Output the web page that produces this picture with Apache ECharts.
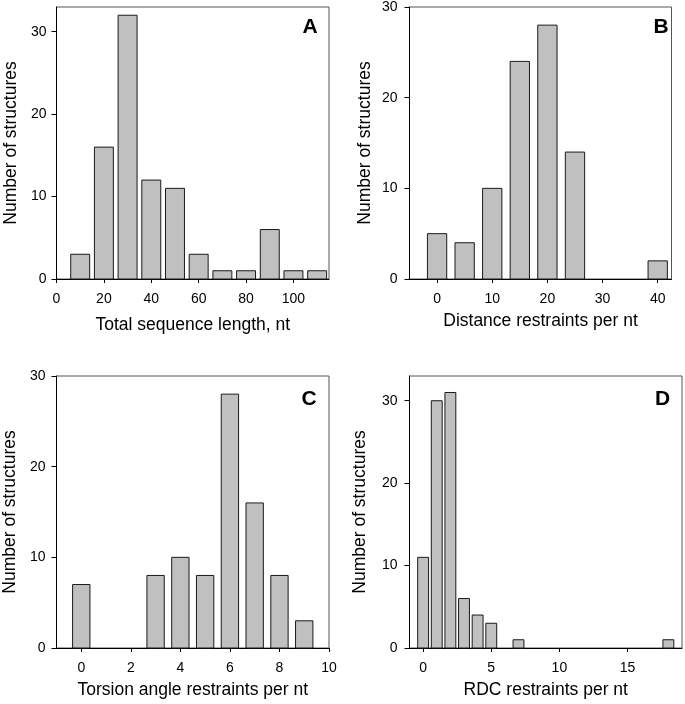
<!DOCTYPE html>
<html>
<head>
<meta charset="utf-8">
<script src="https://cdn.jsdelivr.net/npm/echarts@6/dist/echarts.min.js"></script>
<style>
html,body{margin:0;padding:0;background:#fff;}
#chart{width:685px;height:704px;}
</style>
</head>
<body>
<div id="chart"></div>
<script>
// Panel A: total sequence length
var lengthBins = [10, 20, 30, 40, 50, 60, 70, 80, 90, 100, 110];
var lengthCounts = [3, 16, 32, 12, 11, 3, 1, 1, 6, 1, 1];
var lengthTicks = [0, 20, 40, 60, 80, 100];
// Panel B: distance restraints per nt
var distBins = [0, 5, 10, 15, 20, 25, 40];
var distCounts = [5, 4, 10, 24, 28, 14, 2];
var distTicks = [0, 10, 20, 30, 40];
// Panel C: torsion angle restraints per nt
var torsionBins = [0, 3, 4, 5, 6, 7, 8, 9];
var torsionCounts = [7, 8, 10, 8, 28, 16, 8, 3];
var torsionTicks = [0, 2, 4, 6, 8, 10];
// Panel D: RDC restraints per nt
var rdcBins = [0, 1, 2, 3, 4, 5, 7, 18];
var rdcCounts = [11, 30, 31, 6, 4, 3, 1, 1];
var rdcTicks = [0, 5, 10, 15];
var countTicks = [0, 10, 20, 30];

var FONT = '"Liberation Sans", Arial, sans-serif';

function zip(a, b) { return a.map(function (v, i) { return [v, b[i]]; }); }

function barRenderer(w) {
  return function (params, api) {
    var x = api.value(0), y = api.value(1);
    var p0 = api.coord([x - w / 2, y]);
    var p1 = api.coord([x + w / 2, 0]);
    return {
      type: 'rect',
      shape: { x: p0[0], y: p0[1], width: p1[0] - p0[0], height: p1[1] - p0[1] },
      style: { fill: '#c0c0c0', stroke: '#1a1a1a', lineWidth: 1 }
    };
  };
}

function xAx(idx, min, max, ticks, name, gap) {
  return {
    type: 'value', gridIndex: idx, min: min, max: max,
    name: name, nameLocation: 'middle', nameGap: gap,
    nameTextStyle: { fontFamily: FONT, fontSize: 17.5, color: '#000' },
    axisLine: { show: true, onZero: false, lineStyle: { color: '#000', width: 1 } },
    axisTick: { show: true, inside: false, length: 4, customValues: ticks, lineStyle: { color: '#000' } },
    axisLabel: { customValues: ticks, fontFamily: FONT, fontSize: 14, color: '#000', margin: 13 },
    splitLine: { show: false }
  };
}
function yAx(idx, max, name, gap, lm) {
  return {
    type: 'value', gridIndex: idx, min: 0, max: max,
    name: name, nameLocation: 'middle', nameGap: gap,
    nameTextStyle: { fontFamily: FONT, fontSize: 17.5, color: '#000' },
    axisLine: { show: true, onZero: false, lineStyle: { color: '#000', width: 1 } },
    axisTick: { show: true, inside: false, length: 5, customValues: countTicks, lineStyle: { color: '#000' } },
    axisLabel: { customValues: countTicks, fontFamily: FONT, fontSize: 14, color: '#000', margin: lm },
    splitLine: { show: false }
  };
}
function grid(l, t, w, h) {
  return { left: l, top: t, width: w, height: h, show: true, borderColor: '#555', borderWidth: 1, backgroundColor: 'transparent', containLabel: false };
}
function letter(txt, l, t) {
  return { text: txt, left: l, top: t, padding: 0, textStyle: { fontFamily: FONT, fontSize: 21, fontWeight: 'bold', color: '#000' } };
}

var chart = echarts.init(document.getElementById('chart'), null, { renderer: 'canvas' });
chart.setOption({
  backgroundColor: '#fff',
  animation: false,
  title: [letter('A', 302.5, 17), letter('B', 653.5, 17), letter('C', 301.5, 389), letter('D', 655, 389)],
  grid: [grid(56.5, 7, 272.5, 272), grid(409.5, 7, 262, 272), grid(56.5, 376, 272.5, 272), grid(409.5, 376, 272.5, 272)],
  xAxis: [
    xAx(0, 0, 115, lengthTicks, 'Total sequence length, nt', 37),
    xAx(1, -5, 42.5, distTicks, 'Distance restraints per nt', 33),
    xAx(2, -1, 10, torsionTicks, 'Torsion angle restraints per nt', 33),
    xAx(3, -1, 19, rdcTicks, 'RDC restraints per nt', 33)
  ],
  yAxis: [
    yAx(0, 33, 'Number of structures', 36, 10),
    yAx(1, 30, 'Number of structures', 35, 12),
    yAx(2, 30, 'Number of structures', 37, 11),
    yAx(3, 33, 'Number of structures', 40, 12)
  ],
  series: [
    { type: 'custom', xAxisIndex: 0, yAxisIndex: 0, renderItem: barRenderer(8), data: zip(lengthBins, lengthCounts), clip: false },
    { type: 'custom', xAxisIndex: 1, yAxisIndex: 1, renderItem: barRenderer(3.5), data: zip(distBins, distCounts), clip: false },
    { type: 'custom', xAxisIndex: 2, yAxisIndex: 2, renderItem: barRenderer(0.7), data: zip(torsionBins, torsionCounts), clip: false },
    { type: 'custom', xAxisIndex: 3, yAxisIndex: 3, renderItem: barRenderer(0.8), data: zip(rdcBins, rdcCounts), clip: false }
  ]
});
</script>
</body>
</html>
